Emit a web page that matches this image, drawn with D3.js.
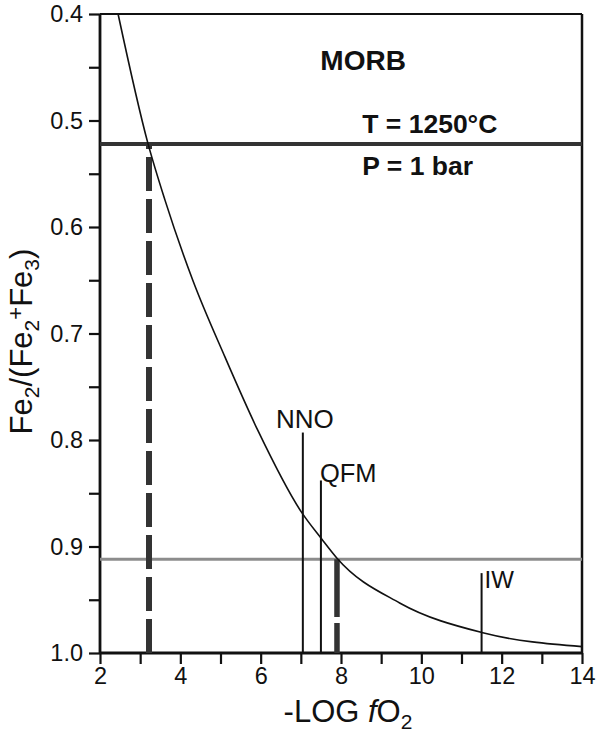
<!DOCTYPE html>
<html>
<head>
<meta charset="utf-8">
<script src="https://cdn.jsdelivr.net/npm/d3@7.9.0/dist/d3.min.js"></script>
<style>
  body { margin: 0; background: #fff; }
  text { font-family: "Liberation Sans", Arial, sans-serif; fill: #111; }
</style>
</head>
<body>
<svg id="chart" width="597" height="733"></svg>
<script>
// curve: -log fO2 vs Fe2/(Fe2+Fe3)
const curveX = [2.45, 3.19, 3.62, 4.31, 5.11, 5.93, 7.02, 7.52, 7.90, 9.46, 11.53, 14.0];
const curveY = [0.400, 0.521, 0.575, 0.650, 0.722, 0.791, 0.868, 0.893, 0.911, 0.953, 0.981, 0.994];

// oxygen buffers (vertical markers)
const bufferNames = ["NNO", "QFM", "IW"];
const bufferX = [7.05, 7.5, 11.5];
const bufferTop = [0.793, 0.838, 0.925];

// reference levels
const levelY = [0.522, 0.912];      // dark line, grey line
const dropX = [3.22, 7.9];          // dashed drops to the x axis

const xTicks = [2, 3, 4, 5, 6, 7, 8, 9, 10, 11, 12, 13, 14];
const xTickLabels = ["2", "", "4", "", "6", "", "8", "", "10", "", "12", "", "14"];
const yTicks = [0.4, 0.45, 0.5, 0.55, 0.6, 0.65, 0.7, 0.75, 0.8, 0.85, 0.9, 0.95, 1.0];
const yTickLabels = ["0.4", "", "0.5", "", "0.6", "", "0.7", "", "0.8", "", "0.9", "", "1.0"];

const svg = d3.select("#chart");
const mLeft = 100, mRight = 582, mTop = 14, mBottom = 653;

const x = d3.scaleLinear().domain([2, 14]).range([mLeft, mRight]);
const y = d3.scaleLinear().domain([0.4, 1.0]).range([mTop, mBottom]);

// axes
const xAxis = svg.append("g")
  .attr("transform", `translate(0,${mBottom})`)
  .call(d3.axisBottom(x).tickValues(xTicks)
    .tickFormat((d, i) => xTickLabels[i]).tickSize(11).tickSizeOuter(0).tickPadding(3));
const yAxis = svg.append("g")
  .attr("transform", `translate(${mLeft},0)`)
  .call(d3.axisLeft(y).tickValues(yTicks)
    .tickFormat((d, i) => yTickLabels[i]).tickSize(11).tickSizeOuter(0).tickPadding(6));

[xAxis, yAxis].forEach(g => {
  g.attr("font-size", null);
  g.select(".domain").remove();
  g.selectAll(".tick line").attr("stroke", "#111").attr("stroke-width", 2.2);
  g.selectAll(".tick text").attr("font-size", 23.5).attr("fill", "#222")
    .style("font-family", '"Liberation Sans", Arial, sans-serif');
});

// frame
const frame = svg.append("g").attr("stroke", "#111").attr("fill", "none");
frame.append("line").attr("x1", x(2)).attr("x2", x(14)).attr("y1", y(1.0)).attr("y2", y(1.0)).attr("stroke-width", 2.8);
frame.append("line").attr("x1", x(2)).attr("x2", x(2)).attr("y1", y(0.4)).attr("y2", y(1.0)).attr("stroke-width", 2.8);
frame.append("line").attr("x1", x(2)).attr("x2", x(14)).attr("y1", y(0.4)).attr("y2", y(0.4)).attr("stroke-width", 2.2);
frame.append("line").attr("x1", x(14)).attr("x2", x(14)).attr("y1", y(0.4)).attr("y2", y(1.0)).attr("stroke-width", 2.5);

// horizontal levels
svg.append("line")
  .attr("x1", x(2)).attr("x2", x(14)).attr("y1", y(levelY[0])).attr("y2", y(levelY[0]))
  .attr("stroke", "#333").attr("stroke-width", 4);
svg.append("line")
  .attr("x1", x(2)).attr("x2", x(14)).attr("y1", y(levelY[1])).attr("y2", y(levelY[1]))
  .attr("stroke", "#8c8c8c").attr("stroke-width", 3);

// dashed drops, drawn from the axis upward
const dashes = ["34,8", "30,6,60,6"];
dropX.forEach((d, i) => {
  svg.append("line")
    .attr("x1", x(d)).attr("x2", x(d))
    .attr("y1", y(1.0)).attr("y2", y(levelY[i]))
    .attr("stroke", "#333").attr("stroke-width", i === 0 ? 6 : 5.5)
    .attr("stroke-dasharray", dashes[i]);
});

// buffer markers
bufferNames.forEach((name, i) => {
  svg.append("line")
    .attr("x1", x(bufferX[i])).attr("x2", x(bufferX[i]))
    .attr("y1", y(1.0)).attr("y2", y(bufferTop[i]))
    .attr("stroke", "#111").attr("stroke-width", 2);
});
svg.append("text").attr("x", x(bufferX[0]) + 2).attr("y", y(bufferTop[0]) - 5)
  .attr("text-anchor", "middle").attr("font-size", 26).text(bufferNames[0]);
svg.append("text").attr("x", x(bufferX[1]) - 1).attr("y", y(bufferTop[1]) + 2)
  .attr("font-size", 25.5).text(bufferNames[1]);
svg.append("text").attr("x", x(bufferX[2]) + 3).attr("y", y(bufferTop[2]) + 15)
  .attr("font-size", 24).text(bufferNames[2]);

// the curve
const pts = curveX.map((d, i) => [d, curveY[i]]);
svg.append("path")
  .datum(pts)
  .attr("fill", "none").attr("stroke", "#111").attr("stroke-width", 1.6)
  .attr("d", d3.line().x(d => x(d[0])).y(d => y(d[1])).curve(d3.curveMonotoneX));

// annotations
svg.append("text").attr("x", x(8.55)).attr("y", y(0.453))
  .attr("text-anchor", "middle").attr("font-size", 28).attr("font-weight", "bold").text("MORB");
svg.append("text").attr("x", x(8.53)).attr("y", y(0.5115))
  .attr("font-size", 26.5).attr("font-weight", "bold").text("T = 1250°C");
svg.append("text").attr("x", x(8.53)).attr("y", y(0.551))
  .attr("font-size", 26.5).attr("font-weight", "bold").text("P = 1 bar");

// axis titles
const xt = svg.append("text").attr("x", (mLeft + mRight) / 2 + 7).attr("y", 722)
  .attr("text-anchor", "middle").attr("font-size", 31);
xt.append("tspan").text("-LOG ");
xt.append("tspan").attr("font-style", "italic").text("f");
xt.append("tspan").text("O");
xt.append("tspan").attr("font-size", 21).attr("dy", 7).text("2");

const yt = svg.append("text")
  .attr("transform", `translate(32,${(mTop + mBottom) / 2 + 8}) rotate(-90)`)
  .attr("text-anchor", "middle").attr("font-size", 31);
yt.append("tspan").text("Fe");
yt.append("tspan").attr("font-size", 21).attr("dy", 7).text("2");
yt.append("tspan").attr("dy", -7).text("/(Fe");
yt.append("tspan").attr("font-size", 21).attr("dy", 7).text("2");
yt.append("tspan").attr("font-size", 22).attr("dy", -16).text("+");
yt.append("tspan").attr("dy", 9).text("Fe");
yt.append("tspan").attr("font-size", 21).attr("dy", 7).text("3");
yt.append("tspan").attr("dy", -7).text(")");
</script>
</body>
</html>
